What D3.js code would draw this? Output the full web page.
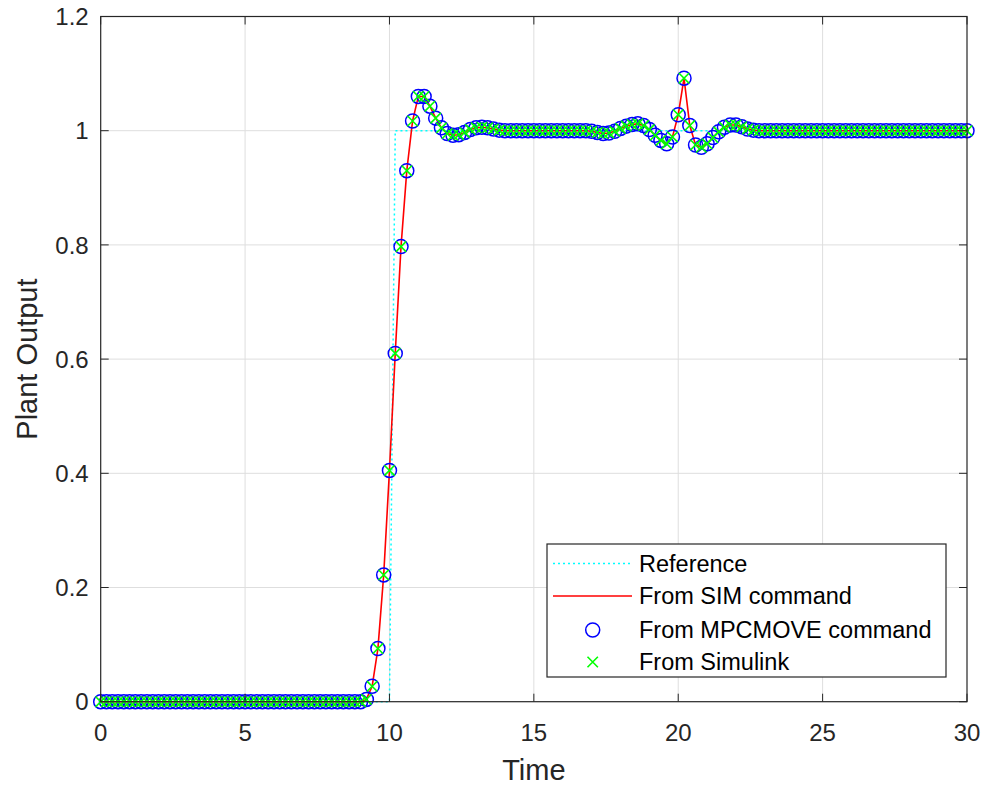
<!DOCTYPE html>
<html>
<head>
<meta charset="utf-8">
<script src="https://cdn.jsdelivr.net/npm/d3@7"></script>
<style>
  html, body { margin: 0; padding: 0; background: #fff; }
  svg { display: block; }
  text { font-family: "Liberation Sans", Arial, sans-serif; }
</style>
</head>
<body>
<svg id="chart" width="985" height="785"></svg>
<script>
// ---------------- DATA ----------------
const time = [
  0.0,0.2,0.4,0.6,0.8,1.0,1.2,1.4,1.6,1.8,2.0,2.2,2.4,2.6,2.8,3.0,3.2,3.4,3.6,3.8,
  4.0,4.2,4.4,4.6,4.8,5.0,5.2,5.4,5.6,5.8,6.0,6.2,6.4,6.6,6.8,7.0,7.2,7.4,7.6,7.8,
  8.0,8.2,8.4,8.6,8.8,9.0,9.2,9.4,9.6,9.8,10.0,10.2,10.4,10.6,10.8,11.0,11.2,11.4,11.6,11.8,
  12.0,12.2,12.4,12.6,12.8,13.0,13.2,13.4,13.6,13.8,14.0,14.2,14.4,14.6,14.8,15.0,15.2,15.4,15.6,15.8,
  16.0,16.2,16.4,16.6,16.8,17.0,17.2,17.4,17.6,17.8,18.0,18.2,18.4,18.6,18.8,19.0,19.2,19.4,19.6,19.8,
  20.0,20.2,20.4,20.6,20.8,21.0,21.2,21.4,21.6,21.8,22.0,22.2,22.4,22.6,22.8,23.0,23.2,23.4,23.6,23.8,
  24.0,24.2,24.4,24.6,24.8,25.0,25.2,25.4,25.6,25.8,26.0,26.2,26.4,26.6,26.8,27.0,27.2,27.4,27.6,27.8,
  28.0,28.2,28.4,28.6,28.8,29.0,29.2,29.4,29.6,29.8,30.0
];

const simOutput = [
  0,0,0,0,0,0,0,0,0,0,0,0,0,0,0,0,0,0,0,0,
  0,0,0,0,0,0,0,0,0,0,0,0,0,0,0,0,0,0,0,0,
  0,0,0,0,0,0,0.004,0.027,0.093,0.222,0.405,0.610,0.797,0.930,1.017,1.060,1.060,1.043,1.022,1.005,
  0.995,0.992,0.993,0.997,1.002,1.005,1.006,1.005,1.003,1.001,1,1,1,1,1,1,1,1,1,1,
  1,1,1,1,1,0.999,0.997,0.995,0.996,0.999,1.004,1.008,1.011,1.012,1.009,1.002,0.992,0.983,0.977,0.989,
  1.028,1.092,1.009,0.975,0.971,0.977,0.988,0.998,1.006,1.010,1.010,1.007,1.003,1.001,1,1,1,1,1,1,
  1,1,1,1,1,1,1,1,1,1,1,1,1,1,1,1,1,1,1,1,
  1,1,1,1,1,1,1,1,1,1,1
];
const mpcmoveOutput = simOutput.slice();
const simulinkOutput = simOutput.slice();

const refTime  = [0, 10, 10.2, 30];
const refValue = [0, 0, 1, 1];

const xTicks = [0, 5, 10, 15, 20, 25, 30];
const yTicks = [0, 0.2, 0.4, 0.6, 0.8, 1, 1.2];

const legendLabels = ["Reference", "From SIM command", "From MPCMOVE command", "From Simulink"];
const xLabel = "Time";
const yLabel = "Plant Output";

// ---------------- LAYOUT ----------------
const svg = d3.select("#chart");
const L = 100.7, R = 967, T = 16.5, B = 701.7;
const axisColor = "#262626";
const gridColor = "#dedede";
const tickFont = 24;
const labelFont = 29;

const x = d3.scaleLinear().domain([0, 30]).range([L, R]);
const y = d3.scaleLinear().domain([0, 1.2]).range([B, T]);

svg.append("rect").attr("width", 985).attr("height", 785).attr("fill", "#fff");

// grid
const grid = svg.append("g");
grid.selectAll(".gx").data(xTicks.slice(1, -1)).enter().append("line")
  .attr("x1", d => x(d)).attr("x2", d => x(d)).attr("y1", T).attr("y2", B)
  .attr("stroke", gridColor).attr("stroke-width", 1);
grid.selectAll(".gy").data(yTicks.slice(1, -1)).enter().append("line")
  .attr("y1", d => y(d)).attr("y2", d => y(d)).attr("x1", L).attr("x2", R)
  .attr("stroke", gridColor).attr("stroke-width", 1);

// data
const plot = svg.append("g");
const lineGen = d3.line().x(d => x(d[0])).y(d => y(d[1]));

plot.append("path")
  .attr("d", lineGen(refTime.map((t, i) => [t, refValue[i]])))
  .attr("fill", "none").attr("stroke", "#00ffff").attr("stroke-width", 1.5)
  .attr("stroke-dasharray", "2,3");

plot.append("path")
  .attr("d", lineGen(time.map((t, i) => [t, simOutput[i]])))
  .attr("fill", "none").attr("stroke", "#ff0000").attr("stroke-width", 1.6);

const cr = 7;
plot.selectAll(".mpc").data(time.map((t, i) => [t, mpcmoveOutput[i]])).enter()
  .append("circle")
  .attr("cx", d => x(d[0])).attr("cy", d => y(d[1])).attr("r", cr)
  .attr("fill", "none").attr("stroke", "#0000ff").attr("stroke-width", 1.5);

const xs = 5.2;
const xMark = (cx, cy) => `M${cx - xs},${cy - xs}L${cx + xs},${cy + xs}M${cx - xs},${cy + xs}L${cx + xs},${cy - xs}`;
plot.selectAll(".sl").data(time.map((t, i) => [t, simulinkOutput[i]])).enter()
  .append("path")
  .attr("d", d => xMark(x(d[0]), y(d[1])))
  .attr("fill", "none").attr("stroke", "#00ff00").attr("stroke-width", 1.6);

// axes box and ticks
const ax = svg.append("g");
const tl = 8;
ax.selectAll(".xtb").data(xTicks).enter().append("line")
  .attr("x1", d => x(d)).attr("x2", d => x(d)).attr("y1", B).attr("y2", B - tl)
  .attr("stroke", axisColor);
ax.selectAll(".xtt").data(xTicks).enter().append("line")
  .attr("x1", d => x(d)).attr("x2", d => x(d)).attr("y1", T).attr("y2", T + tl)
  .attr("stroke", axisColor);
ax.selectAll(".ytl").data(yTicks).enter().append("line")
  .attr("y1", d => y(d)).attr("y2", d => y(d)).attr("x1", L).attr("x2", L + tl)
  .attr("stroke", axisColor);
ax.selectAll(".ytr").data(yTicks).enter().append("line")
  .attr("y1", d => y(d)).attr("y2", d => y(d)).attr("x1", R).attr("x2", R - tl)
  .attr("stroke", axisColor);
ax.append("rect").attr("x", L).attr("y", T).attr("width", R - L).attr("height", B - T)
  .attr("fill", "none").attr("stroke", axisColor).attr("stroke-width", 1.2);

// tick labels
ax.selectAll(".xl").data(xTicks).enter().append("text")
  .attr("x", d => x(d)).attr("y", 741)
  .attr("text-anchor", "middle").attr("font-size", tickFont).attr("fill", axisColor)
  .text(d => d3.format("~g")(d));
ax.selectAll(".yl").data(yTicks).enter().append("text")
  .attr("x", L - 12).attr("y", d => y(d)).attr("dy", "0.36em")
  .attr("text-anchor", "end").attr("font-size", tickFont).attr("fill", axisColor)
  .text(d => d3.format("~g")(d));

// axis labels
svg.append("text").attr("x", (L + R) / 2).attr("y", 780)
  .attr("text-anchor", "middle").attr("font-size", labelFont).attr("fill", axisColor).text(xLabel);
svg.append("text").attr("transform", `translate(37,${(T + B) / 2}) rotate(-90)`)
  .attr("text-anchor", "middle").attr("font-size", labelFont).attr("fill", axisColor).text(yLabel);

// legend
const lg = svg.append("g");
lg.append("rect").attr("x", 547).attr("y", 544).attr("width", 399).attr("height", 133)
  .attr("fill", "#fff").attr("stroke", axisColor).attr("stroke-width", 1.2);
const rowsY = [563.5, 596, 630, 662];
const sx1 = 553, sx2 = 632, smid = 592.7, tx = 639;
lg.append("line").attr("x1", sx1).attr("x2", sx2).attr("y1", rowsY[0]).attr("y2", rowsY[0])
  .attr("stroke", "#00ffff").attr("stroke-width", 1.5).attr("stroke-dasharray", "2,3");
lg.append("line").attr("x1", sx1).attr("x2", sx2).attr("y1", rowsY[1]).attr("y2", rowsY[1])
  .attr("stroke", "#ff0000").attr("stroke-width", 1.6);
lg.append("circle").attr("cx", smid).attr("cy", rowsY[2]).attr("r", cr)
  .attr("fill", "none").attr("stroke", "#0000ff").attr("stroke-width", 1.5);
lg.append("path").attr("d", xMark(smid, rowsY[3]))
  .attr("fill", "none").attr("stroke", "#00ff00").attr("stroke-width", 1.6);
lg.selectAll(".lt").data(legendLabels).enter().append("text")
  .attr("x", tx).attr("y", (d, i) => rowsY[i]).attr("dy", "0.36em")
  .attr("font-size", 23.5).attr("fill", "#000").text(d => d);
</script>
</body>
</html>
